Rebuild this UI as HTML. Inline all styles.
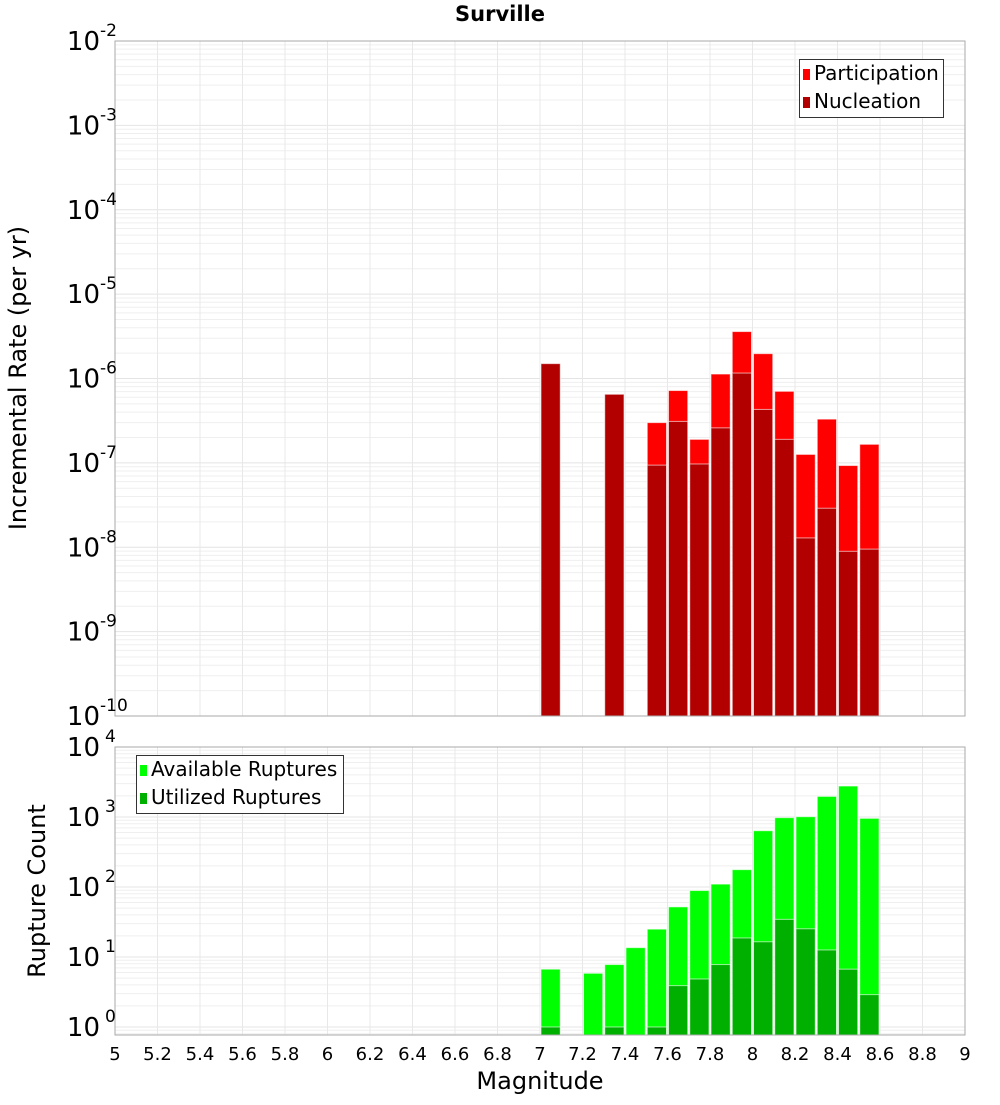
<!DOCTYPE html>
<html><head><meta charset="utf-8"><style>
body{margin:0;background:#fff;width:1000px;height:1100px;overflow:hidden}
svg text{font-family:"DejaVu Sans",sans-serif}
</style></head><body>
<svg id="c" width="1000" height="1100" xmlns="http://www.w3.org/2000/svg"></svg>
<script>
const mags=[7.05,7.35,7.55,7.65,7.75,7.85,7.95,8.05,8.15,8.25,8.35,8.45,8.55];
const participation=[1.5e-6,6.5e-7,3.0e-7,7.2e-7,1.9e-7,1.13e-6,3.6e-6,1.97e-6,7.05e-7,1.26e-7,3.3e-7,9.3e-8,1.66e-7];
const nucleation=[1.5e-6,6.5e-7,9.4e-8,3.1e-7,9.7e-8,2.6e-7,1.16e-6,4.3e-7,1.9e-7,1.29e-8,2.9e-8,8.95e-9,9.5e-9];
const cMags=[7.05,7.25,7.35,7.45,7.55,7.65,7.75,7.85,7.95,8.05,8.15,8.25,8.35,8.45,8.55];
const available=[6.7,5.85,7.8,13.6,25,52,89,110,177,637,978,1010,1970,2770,957];
const utilized=[1,0,1,0,1,3.9,4.85,7.8,18.7,16.5,34.5,25.3,12.6,6.7,2.9];
const xTicks=[5,5.2,5.4,5.6,5.8,6,6.2,6.4,6.6,6.8,7,7.2,7.4,7.6,7.8,8,8.2,8.4,8.6,8.8,9];
const topExp=[-2,-3,-4,-5,-6,-7,-8,-9,-10];
const botExp=[4,3,2,1,0];

const NS="http://www.w3.org/2000/svg";
const svg=document.getElementById('c');
function el(t,a,p){const e=document.createElementNS(NS,t);for(const k in a)e.setAttribute(k,a[k]);(p||svg).appendChild(e);return e;}
const X0=115,X1=965;
const xs=v=>X0+(v-5)/4*(X1-X0);
const T0=41,T1=716;
const yT=v=>T0+(-2-Math.log10(v))*(T1-T0)/8;
const B0=747,Bdec=70,B1=1035;
const yB=v=>Math.max(B0,Math.min(B1,B0+(4-Math.log10(v))*Bdec));

function grid(y0,y1,eMin,eMax,yf,name){
  const g=el('g',{});
  
  
  for(let e=eMin;e<=eMax;e++)for(let m=1;m<10;m++){const y=yf(m*Math.pow(10,e));if(y<y0-0.5||y>y1+0.5)continue;el('line',{x1:X0,x2:X1,y1:y,y2:y,stroke:m==1?'#e4e4e4':'#efefef','stroke-width':1},g);}
  xTicks.forEach(t=>el('line',{x1:xs(t),x2:xs(t),y1:y0,y2:y1,stroke:'#e8e8e8','stroke-width':1},g));
}
grid(T0,T1,-10,-2,yT,'top-grid');
grid(B0,B1,-1,4,yB,'bottom-grid');

const w=(X1-X0)/40;
function bar(x,v,yf,base,fill,name){
  const y=yf(v);
  const r=el('rect',{x:xs(x)-w/2+1,y:y,width:w-2,height:base-y,fill:fill,stroke:'rgba(255,255,255,0.6)','stroke-width':1});
  
  
}
mags.forEach((m,i)=>bar(m,participation[i],yT,T1,'#ff0000','participation-bar'));
mags.forEach((m,i)=>bar(m,nucleation[i],yT,T1,'#b20000','nucleation-bar'));
cMags.forEach((m,i)=>{if(available[i]>0)bar(m,available[i],yB,B1,'#00ff00','available-bar');});
cMags.forEach((m,i)=>{if(utilized[i]>0)bar(m,utilized[i],yB,B1,'#00b000','utilized-bar');});

el('rect',{x:X0,y:T0,width:X1-X0,height:T1-T0,fill:'none',stroke:'#aaa'});
el('rect',{x:X0,y:B0,width:X1-X0,height:B1-B0,fill:'none',stroke:'#aaa'});

function ylab(e,y,name,gap){
  const t=el('text',{x:100,y:y+9,'text-anchor':'end','font-size':26,fill:'#000'});
  
  
  t.textContent='10';
  const s=el('text',{x:100+gap,y:y-5,'font-size':17,fill:'#000'});
  
  
  s.textContent=String(e);
}
topExp.forEach(e=>ylab(e,yT(Math.pow(10,e)),'top-y-tick',0));
botExp.forEach(e=>ylab(e,yB(Math.pow(10,e)),'bottom-y-tick',5));
xTicks.forEach(t=>{
  const s=el('text',{x:xs(t),y:1060,'text-anchor':'middle','font-size':18,fill:'#000'});
  
  
  s.textContent=String(t);
});
</script>
<div style="position:absolute;left:0;top:2px;width:1000px;text-align:center;font:bold 21px 'DejaVu Sans',sans-serif">Surville</div>
<div style="position:absolute;left:0;top:1067px;width:1080px;text-align:center;font:24px 'DejaVu Sans',sans-serif">Magnitude</div>
<div style="position:absolute;left:-152px;top:364px;width:340px;text-align:center;font:24px 'DejaVu Sans',sans-serif;transform:rotate(-90deg)">Incremental Rate (per yr)</div>
<div style="position:absolute;left:-63px;top:877px;width:200px;text-align:center;font:24px 'DejaVu Sans',sans-serif;transform:rotate(-90deg)">Rupture Count</div>
<div style="position:absolute;left:799px;top:59px;width:143px;height:57px;border:1px solid #333;background:#fff;font:20px 'DejaVu Sans',sans-serif">
<div style="position:absolute;left:3px;top:1px;white-space:nowrap"><span style="display:inline-block;width:7px;height:11px;background:#f00;margin-right:4px"></span>Participation</div>
<div style="position:absolute;left:3px;top:29px;white-space:nowrap"><span style="display:inline-block;width:7px;height:11px;background:#b20000;margin-right:4px"></span>Nucleation</div>
</div>
<div style="position:absolute;left:136px;top:755px;width:206px;height:57px;border:1px solid #333;background:#fff;font:20px 'DejaVu Sans',sans-serif">
<div style="position:absolute;left:3px;top:1px;white-space:nowrap"><span style="display:inline-block;width:7px;height:11px;background:#0f0;margin-right:4px"></span>Available Ruptures</div>
<div style="position:absolute;left:3px;top:29px;white-space:nowrap"><span style="display:inline-block;width:7px;height:11px;background:#00b000;margin-right:4px"></span>Utilized Ruptures</div>
</div>
</body></html>
